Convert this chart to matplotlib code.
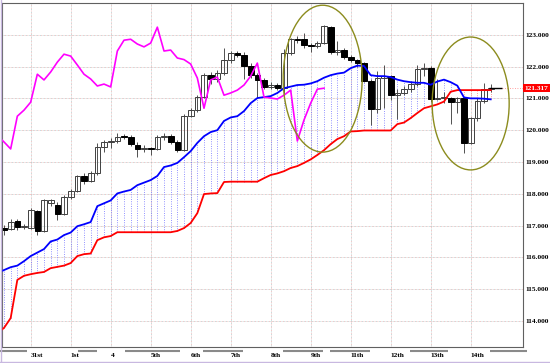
import matplotlib
matplotlib.use("Agg")
import matplotlib.pyplot as plt
from matplotlib.patches import Ellipse
import numpy as np

# ---------------- data (4-hour bars) ----------------
opens = [116.92, 116.90, 117.14, 116.94, 116.92, 117.45, 116.84, 117.70, 117.65, 117.37,
         117.89, 118.10, 118.56, 118.41, 118.66, 119.48, 119.62, 119.66, 119.80, 119.79,
         119.52, 119.42, 119.43, 119.41, 119.80, 119.82, 119.64, 119.37, 120.44, 120.63,
         121.05, 121.75, 121.60, 121.80, 122.20, 122.42, 122.36, 122.03, 121.73, 121.58,
         121.36, 121.42, 121.33, 122.42, 122.86, 122.86, 122.68, 122.64, 122.74, 123.24,
         122.46, 122.52, 122.30, 122.20, 122.11, 121.55, 120.66, 121.65, 121.70, 121.10,
         121.18, 121.30, 121.45, 121.93, 121.97, 120.98, 121.00, 121.02, 120.88, 121.00,
         119.60, 120.38, 120.92, 121.30]
highs = [117.02, 117.22, 117.20, 117.05, 117.55, 117.50, 117.85, 117.82, 117.75, 117.95,
         118.15, 118.60, 118.65, 118.72, 119.59, 119.70, 119.75, 119.92, 119.88, 119.84,
         119.63, 119.52, 119.48, 119.85, 119.90, 119.88, 119.70, 120.50, 120.70, 121.10,
         121.80, 121.83, 121.90, 122.58, 122.50, 122.50, 122.45, 122.10, 121.80, 121.65,
         121.50, 121.48, 122.55, 122.90, 122.95, 123.05, 122.75, 122.80, 123.30, 123.28,
         122.80, 122.58, 122.35, 122.25, 122.15, 121.62, 121.85, 122.05, 121.75, 121.30,
         121.40, 121.55, 122.05, 122.12, 122.03, 121.60, 121.20, 121.05, 121.05, 121.04,
         120.40, 121.00, 121.48, 121.45]
lows = [116.70, 116.85, 116.85, 116.88, 116.90, 116.70, 116.80, 117.60, 117.17, 117.33,
        117.83, 118.05, 118.30, 118.38, 118.60, 119.30, 119.45, 119.60, 119.72, 119.50,
        119.16, 119.30, 119.22, 119.38, 119.70, 119.55, 119.30, 119.33, 120.40, 120.58,
        121.00, 121.45, 121.50, 121.75, 122.10, 122.30, 121.60, 121.65, 121.00, 121.30,
        121.28, 121.25, 121.10, 122.35, 122.75, 122.60, 122.45, 122.58, 122.70, 122.40,
        122.36, 122.25, 122.15, 122.00, 121.50, 120.15, 120.55, 120.70, 120.95, 120.35,
        121.10, 121.20, 121.40, 121.70, 120.90, 120.95, 120.85, 120.20, 120.55, 119.28,
        119.55, 120.30, 120.85, 121.20]
closes = [116.87, 117.12, 116.94, 116.98, 117.50, 116.84, 117.80, 117.80, 117.37, 117.89,
          118.10, 118.56, 118.41, 118.66, 119.48, 119.62, 119.66, 119.80, 119.79, 119.56,
          119.42, 119.43, 119.41, 119.80, 119.82, 119.64, 119.37, 120.44, 120.63, 121.05,
          121.75, 121.60, 121.80, 122.20, 122.42, 122.36, 122.03, 121.73, 121.58, 121.36,
          121.42, 121.33, 122.42, 122.86, 122.84, 122.68, 122.64, 122.74, 123.27, 122.46,
          122.52, 122.30, 122.20, 122.11, 121.55, 120.66, 121.65, 121.70, 121.10, 121.18,
          121.30, 121.45, 121.93, 121.97, 120.98, 121.00, 121.03, 120.88, 121.00, 119.60,
          120.38, 120.92, 121.30, 121.32]

# lagging span (bar -1 .. 48)
lagging = [119.82, 119.63, 119.41, 120.44, 120.63, 120.88, 121.76, 121.58, 121.83, 122.14,
           122.39, 122.33, 122.05, 121.76, 121.61, 121.39, 121.45, 121.36, 122.49, 122.83,
           122.86, 122.71, 122.62, 122.74, 123.24, 122.49, 122.52, 122.27, 122.22, 122.08,
           121.64, 120.69, 121.58, 121.67, 121.10, 121.17, 121.26, 121.42, 121.70, 122.11,
           121.04, 121.01, 120.98, 121.10, 121.26, 119.66, 120.32, 120.85, 121.29, 121.32]

# leading spans (bar -1 .. 73)
span_blue = [115.51, 115.60, 115.69, 115.74, 115.88, 116.04, 116.15, 116.26, 116.50, 116.56,
             116.70, 116.78, 116.98, 117.04, 117.11, 117.61, 117.70, 117.79, 118.01, 118.07,
             118.12, 118.27, 118.35, 118.43, 118.56, 118.84, 118.89, 118.97, 119.15, 119.34,
             119.60, 119.81, 119.94, 120.00, 120.29, 120.40, 120.44, 120.60, 120.85, 121.01,
             121.04, 121.07, 121.17, 121.32, 121.37, 121.42, 121.43, 121.47, 121.54, 121.65,
             121.73, 121.78, 121.81, 121.95, 122.03, 122.02, 121.73, 121.70, 121.70, 121.67,
             121.59, 121.54, 121.51, 121.49, 121.49, 121.43, 121.53, 121.59, 121.51, 121.40,
             121.03, 121.00, 121.00, 120.99, 120.97]
span_red = [113.62, 113.78, 114.09, 115.29, 115.42, 115.47, 115.51, 115.54, 115.66, 115.70,
            115.74, 115.82, 116.04, 116.10, 116.12, 116.54, 116.63, 116.67, 116.79, 116.79,
            116.79, 116.79, 116.79, 116.79, 116.79, 116.79, 116.79, 116.83, 116.92, 117.08,
            117.39, 117.99, 118.01, 118.02, 118.37, 118.38, 118.38, 118.38, 118.38, 118.38,
            118.49, 118.59, 118.64, 118.71, 118.81, 118.87, 118.97, 119.08, 119.22, 119.37,
            119.56, 119.72, 119.81, 119.96, 119.97, 119.99, 119.99, 119.99, 119.99, 119.99,
            120.19, 120.24, 120.38, 120.54, 120.69, 120.75, 120.81, 120.90, 121.21, 121.26,
            121.26, 121.26, 121.26, 121.26, 121.26]

day_labels = ["31st", "1st", "4", "5th", "6th", "7th", "8th", "9th", "11th", "12th", "13th", "14th"]
session_bars = [(-0.6, 3.45), (11.1, 13.95), (18.15, 26.4), (29.85, 35.85), (41.85, 47.85),
                (48.9, 54.9), (60.9, 66.6), (72.9, 78.5)]
price_ticks = [114, 115, 116, 117, 118, 119, 120, 121, 122, 123]
last_price = 121.317

FONT = "Liberation Serif"
FS = 5.3

# ---------------- figure ----------------
fig = plt.figure(figsize=(5.5, 3.63), dpi=100)
fig.patch.set_facecolor("white")
ax = fig.add_axes([2 / 550, 16 / 363, 521 / 550, 344 / 363])
ax.set_xlim(-0.3, 77.85)
ax.set_ylim(113.18, 124.0)

n = len(closes)
x = np.arange(n)
xs = np.arange(-1, n)

# grid
for p in price_ticks:
    ax.axhline(p, color="#e89090", lw=0.5, ls=(0, (1, 3)), zorder=0)
    ax.axhline(p, color="#90b8b8", lw=0.5, ls=(2, (1, 3)), zorder=0)
day_pos = [4 + 6 * k for k in range(len(day_labels))]
for d in day_pos:
    ax.axvline(d, color="#e89090", lw=0.5, ls=(0, (1, 3)), zorder=0)
    ax.axvline(d, color="#90b8b8", lw=0.5, ls=(2, (1, 3)), zorder=0)

# cloud hatching
sb = np.array(span_blue)
sr = np.array(span_red)
for xi, b, r in zip(xs, sb, sr):
    c = "#7070ff" if b >= r else "#ff7a7a"
    ax.vlines(xi, min(b, r), max(b, r), colors=c, lw=0.6, ls=(0, (1, 1.8)), zorder=1)

# candles
o = np.array(opens); h = np.array(highs); l = np.array(lows); c = np.array(closes)
ax.vlines(x, l, h, colors="#505050", lw=0.7, zorder=2)
up = c >= o
body_lo = np.minimum(o, c)
body_h = np.maximum(np.abs(c - o), 0.02)
ax.bar(x[up], body_h[up], bottom=body_lo[up], width=0.85, facecolor="none",
       edgecolor="#404040", lw=0.7, zorder=2.5)
ax.bar(x[~up], body_h[~up], bottom=body_lo[~up], width=0.85, facecolor="black",
       edgecolor="black", lw=0.7, zorder=2.5)

# lines
ax.plot(xs, sr, color="#ff0000", lw=1.3, zorder=3)
ax.plot(xs, sb, color="#0000ff", lw=1.3, zorder=3)
ax.plot(np.arange(-1, len(lagging) - 1), lagging, color="#ff00ff", lw=1.2, zorder=3)

# last price markers
ax.hlines(last_price, n - 1.2, n + 0.7, colors="black", lw=1.0, zorder=4)
ax.hlines(last_price, n + 0.7, 77.85, colors="#ff8080", lw=0.6, ls=(0, (1, 2)), zorder=1)

# annotation ellipses
ax.add_patch(Ellipse((47.8, 121.62), 11.85, 4.62, fill=False, ec="#8c8c1e", lw=1.0, zorder=5))
ax.add_patch(Ellipse((70.0, 120.84), 11.55, 4.18, fill=False, ec="#8c8c1e", lw=1.0, zorder=5))

# axes styling
for s in ax.spines.values():
    s.set_color("#606060")
    s.set_linewidth(0.8)
ax.set_xticks([])
ax.yaxis.tick_right()
ax.set_yticks(price_ticks)
ax.set_yticklabels([f"{p:.3f}" for p in price_ticks], fontfamily=FONT, fontsize=FS,
                   fontweight="bold")
ax.tick_params(axis="y", length=0, pad=1.5)

# price tag
ax.text(1.0035, last_price, f"{last_price:.3f}", transform=ax.get_yaxis_transform(),
        fontfamily=FONT, fontsize=FS, fontweight="bold", color="white", va="center", ha="left",
        bbox=dict(boxstyle="square,pad=0.2", fc="#ff0000", ec="none"), clip_on=False, zorder=6)

# day labels and session bars
tr = ax.get_xaxis_transform()
for d, lab in zip(day_pos, day_labels):
    ax.text(d, -0.026, lab, transform=tr, fontfamily=FONT, fontsize=FS, fontweight="bold",
            ha="left", va="center", clip_on=False)
for a, b in session_bars:
    ax.plot([a, b], [-0.012, -0.012], transform=tr, color="#8a8a8a", lw=1.5,
            solid_capstyle="butt", clip_on=False)

# faint window border
fig.add_artist(plt.Line2D([0.001, 0.001], [0, 1], color="#c8b8e0", lw=1.0))
fig.add_artist(plt.Line2D([0, 1], [0.002, 0.002], color="#c8b8e0", lw=1.0))

fig.savefig("out.png", dpi=100)
